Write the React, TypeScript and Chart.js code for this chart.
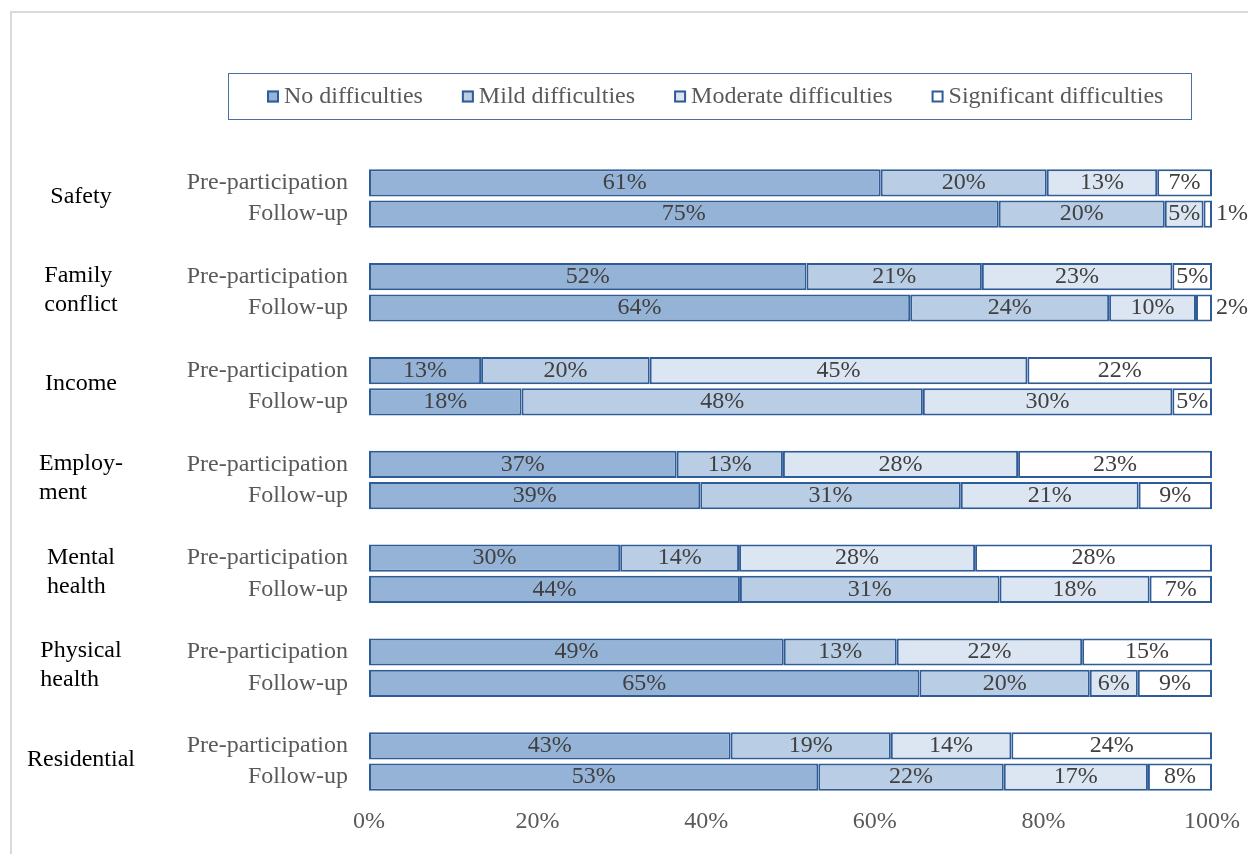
import { useEffect, useRef } from "react";
import { Chart, registerables } from "chart.js";

Chart.register(...registerables);

const groups = ["Safety", "Family\nconflict", "Income", "Employ-\nment", "Mental\nhealth", "Physical\nhealth", "Residential"];
const periods = ["Pre-participation", "Follow-up"];
const seriesNames = ["No difficulties", "Mild difficulties", "Moderate difficulties", "Significant difficulties"];
const xTicks = [0, 20, 40, 60, 80, 100];

// values per bar, order: group pre, group follow-up ...
const noDifficulties = [60.7, 74.7, 51.9, 64.2, 13.3, 18.1, 36.5, 39.3, 29.8, 44.0, 49.2, 65.3, 42.9, 53.3];
const mild = [19.7, 19.7, 20.8, 23.6, 20.0, 47.6, 12.6, 30.9, 14.1, 30.8, 13.4, 20.2, 19.0, 22.0];
const moderate = [13.1, 4.6, 22.6, 10.3, 44.8, 29.6, 27.9, 21.1, 28.0, 17.8, 22.0, 5.7, 14.3, 17.1];
const significant = [6.5, 1.0, 4.7, 1.9, 21.9, 4.7, 23.0, 8.7, 28.1, 7.4, 15.4, 8.8, 23.8, 7.6];

const FONT = "'Liberation Serif', 'Times New Roman', serif";
const fills = ["#95b3d7", "#b9cde5", "#dce6f2", "#ffffff"];
const BORDER = "#2f5b96";

function withGaps(arr: number[]): (number | null)[] {
  const out: (number | null)[] = [];
  for (let g = 0; g < groups.length; g++) {
    out.push(arr[2 * g], arr[2 * g + 1]);
    if (g < groups.length - 1) out.push(null);
  }
  return out;
}

function buildLabels(): string[] {
  const out: string[] = [];
  for (let g = 0; g < groups.length; g++) {
    out.push(periods[0], periods[1]);
    if (g < groups.length - 1) out.push("");
  }
  return out;
}

const decorPlugin = {
  id: "decor",
  beforeDraw(chart: any) {
    const ctx = chart.ctx;
    ctx.save();
    ctx.strokeStyle = "#d9d9d9";
    ctx.lineWidth = 2;
    ctx.strokeRect(11, 12, 1300, 900);
    ctx.restore();
  },
  afterDraw(chart: any) {
    const ctx = chart.ctx;
    ctx.save();
    // legend
    ctx.strokeStyle = "#4a6ea6";
    ctx.lineWidth = 1;
    ctx.strokeRect(228.5, 73.5, 963, 46);
    ctx.font = `24px ${FONT}`;
    ctx.textBaseline = "middle";
    ctx.textAlign = "left";
    let x = 267;
    const cy = 96.5;
    seriesNames.forEach((name, i) => {
      ctx.fillStyle = fills[i];
      ctx.fillRect(x, cy - 6, 12, 12);
      ctx.strokeStyle = BORDER;
      ctx.lineWidth = 2;
      ctx.strokeRect(x + 1, cy - 5, 10, 10);
      ctx.fillStyle = "#595959";
      ctx.fillText(name, x + 17, cy);
      x += 17 + ctx.measureText(name).width + 39;
    });
    // group labels
    const ys = chart.scales.y;
    ctx.fillStyle = "#000000";
    groups.forEach((g, gi) => {
      const yc = (ys.getPixelForValue(3 * gi) + ys.getPixelForValue(3 * gi + 1)) / 2 - 2;
      const lines = g.split("\n");
      const maxW = Math.max(...lines.map((l) => ctx.measureText(l).width));
      const x0 = 81 - maxW / 2;
      lines.forEach((l, li) => {
        ctx.fillText(l, x0, yc + (li - (lines.length - 1) / 2) * 29);
      });
    });
    // data labels
    ctx.fillStyle = "#404040";
    chart.data.datasets.forEach((ds: any, di: number) => {
      const meta = chart.getDatasetMeta(di);
      meta.data.forEach((el: any, j: number) => {
        const v = ds.data[j];
        if (v == null) return;
        const label = Math.round(v) + "%";
        if (v < 3) {
          ctx.textAlign = "left";
          ctx.fillText(label, chart.chartArea.right + 4, el.y);
        } else {
          ctx.textAlign = "center";
          ctx.fillText(label, (el.x + el.base) / 2, el.y);
        }
      });
    });
    ctx.restore();
  },
};

export default function App() {
  const ref = useRef<HTMLCanvasElement | null>(null);
  useEffect(() => {
    if (!ref.current) return;
    const series = [noDifficulties, mild, moderate, significant];
    const chart = new Chart(ref.current, {
      type: "bar",
      data: {
        labels: buildLabels(),
        datasets: series.map((s, i) => ({
          label: seriesNames[i],
          data: withGaps(s),
          backgroundColor: fills[i],
          borderColor: BORDER,
          borderWidth: 2,
          borderSkipped: false,
          barPercentage: 0.87,
          categoryPercentage: 1,
        })),
      },
      options: {
        indexAxis: "y",
        responsive: false,
        animation: false,
        devicePixelRatio: 1,
        layout: { padding: { top: 167.25, right: 36, left: 0, bottom: 0 } },
        plugins: { legend: { display: false }, tooltip: { enabled: false } },
        scales: {
          x: {
            stacked: true,
            min: 0,
            max: 100,
            afterBuildTicks: (scale: any) => {
              scale.ticks = xTicks.map((v) => ({ value: v }));
            },
            afterFit: (scale: any) => {
              scale.height = 61.25;
            },
            grid: { display: false },
            border: { display: false },
            ticks: {
              padding: 7,
              color: "#595959",
              font: { family: FONT, size: 24 },
              callback: (v: any) => v + "%",
            },
          },
          y: {
            stacked: true,
            afterFit: (scale: any) => {
              scale.width = 369;
            },
            grid: { display: false },
            border: { display: false },
            ticks: {
              autoSkip: false,
              padding: 13,
              color: "#595959",
              font: { family: FONT, size: 24 },
            },
          },
        },
      },
      plugins: [decorPlugin],
    } as any);
    return () => chart.destroy();
  }, []);
  return (
    <div style={{ position: "fixed", left: 0, top: 0, width: 1248, height: 854, background: "#fff" }}>
      <canvas ref={ref} width={1248} height={854} style={{ display: "block" }} />
    </div>
  );
}
